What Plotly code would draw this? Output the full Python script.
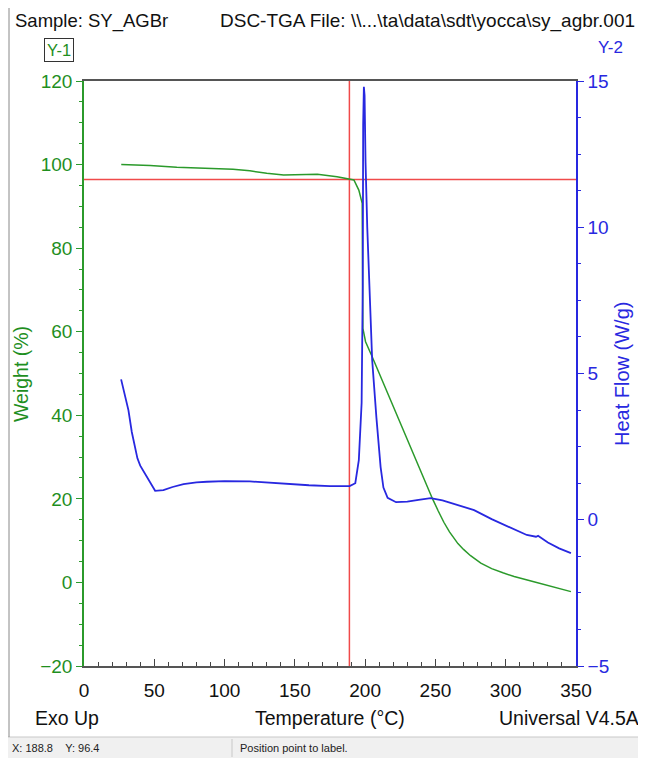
import plotly.graph_objects as go

# ---- data ----
temp_weight = [26.5, 35, 47, 66, 90, 106, 118, 130, 142, 155, 166, 180, 188.8, 192, 195.5, 197.9,
               198.4, 200.3, 205, 211, 225, 240, 247.8, 252, 256, 260, 263, 266, 270, 275, 282.3, 290,
               298, 306, 320, 335, 346.4]
weight = [100.0, 99.9, 99.8, 99.35, 99.0, 98.9, 98.5, 97.9, 97.5, 97.6, 97.7, 97.1, 96.4, 96.3, 93.9, 90.7,
          60.8, 57.6, 54.0, 49.2, 38.2, 26.3, 20.1, 17.1, 14.4, 12.1, 10.6, 9.3, 7.9, 6.4, 4.6, 3.3,
          2.3, 1.4, 0.15, -1.2, -2.2]

temp_heat = [26.4, 29, 31.6, 34, 36, 38, 40, 43, 47, 50.6, 56.5, 63, 70.8, 80, 87.4, 100, 118, 130, 142,
             160, 175, 189, 193, 195.5, 197.5, 198.3, 198.6, 199.1, 199.6, 200.3, 201.5, 203.1, 205, 208,
             211, 213, 216, 222, 230, 238, 246.6, 255, 265, 277.5, 290, 306, 315, 321.5, 323, 330, 338, 346.4]
heat_flow = [4.8, 4.3, 3.75, 3.0, 2.5, 2.1, 1.85, 1.6, 1.3, 0.99, 1.01, 1.12, 1.22, 1.28, 1.3, 1.32, 1.31,
             1.27, 1.22, 1.18, 1.15, 1.15, 1.25, 2.04, 4.0, 8.0, 13.5, 14.8, 14.5, 12.2, 10.0, 7.75, 5.46,
             3.5, 1.8, 1.1, 0.75, 0.6, 0.62, 0.68, 0.74, 0.66, 0.52, 0.33, 0.02, -0.34, -0.52, -0.58,
             -0.55, -0.78, -0.98, -1.14]

cursor_x = 188.8
cursor_y = 96.4

x_ticks = [0, 50, 100, 150, 200, 250, 300, 350]
y1_ticks = [-20, 0, 20, 40, 60, 80, 100, 120]
y2_ticks = [-5, 0, 5, 10, 15]

GREEN = "#2b9a2b"
GREEN_T = "#1f8f1f"
BLUE = "#2828e0"
RED = "#f04a4a"
FONT = "Liberation Sans, Arial, sans-serif"

# the page body has an 8px margin: the figure starts at (8, 8) in the window
OFF = 8
WIN_W, WIN_H = 646, 758
W, H = WIN_W - OFF, WIN_H - OFF
# plot area in window pixels: x 84..576, y 81..666
PL, PR, PT, PB = 84, 576, 81, 666
L, R, T, B = PL - OFF, WIN_W - PR, PT - OFF, WIN_H - PB
pw, ph = PR - PL, PB - PT


def px(x):  # window pixel -> paper
    return (x - PL) / pw


def py(y):
    return (PB - y) / ph


fig = go.Figure()
fig.add_trace(go.Scatter(x=temp_weight, y=weight, mode="lines", line=dict(color=GREEN, width=1.5),
                         yaxis="y", showlegend=False, hoverinfo="skip"))
fig.add_trace(go.Scatter(x=temp_heat, y=heat_flow, mode="lines", line=dict(color=BLUE, width=1.8),
                         yaxis="y2", showlegend=False, hoverinfo="skip"))

shapes = [
    dict(type="line", xref="x", yref="paper", x0=cursor_x, x1=cursor_x, y0=0, y1=1,
         line=dict(color=RED, width=1.5), layer="below"),
    dict(type="line", xref="paper", yref="y", x0=0, x1=1, y0=cursor_y, y1=cursor_y,
         line=dict(color=RED, width=1.5), layer="below"),
    # status bar
    dict(type="rect", xref="paper", yref="paper", x0=px(0), x1=px(WIN_W), y0=py(WIN_H), y1=py(737),
         fillcolor="#f0f0f0", line=dict(width=0), layer="below"),
    dict(type="line", xref="paper", yref="paper", x0=px(0), x1=px(WIN_W), y0=py(737), y1=py(737),
         line=dict(color="#c8c8c8", width=1)),
    dict(type="line", xref="paper", yref="paper", x0=px(232), x1=px(232), y0=py(739), y1=py(757),
         line=dict(color="#c8c8c8", width=1)),
    # left window border
    dict(type="line", xref="paper", yref="paper", x0=px(9), x1=px(9), y0=py(0), y1=py(737),
         line=dict(color="#888888", width=1)),
]

ann = [
    dict(text="Sample: SY_AGBr", x=px(13), y=py(8), xanchor="left", yanchor="top",
         font=dict(size=18.5, color="#111")),
    dict(text="DSC-TGA File: \\\\...\\ta\\data\\sdt\\yocca\\sy_agbr.001", x=px(218), y=py(8),
         xanchor="left", yanchor="top", font=dict(size=19, color="#111")),
    dict(text="Y-1", x=px(59), y=py(50), xanchor="center", font=dict(size=16.5, color=GREEN_T),
         bordercolor="#333", borderwidth=1, borderpad=2),
    dict(text="Y-2", x=px(610), y=py(48), xanchor="center", font=dict(size=17, color=BLUE)),
    dict(text="Exo Up", x=px(33), y=py(718), xanchor="left", font=dict(size=19.5, color="#111")),
    dict(text="Temperature (°C)", x=px(330), y=py(718), xanchor="center", font=dict(size=19.5, color="#111")),
    dict(text="Universal V4.5A", x=px(641), y=py(718), xanchor="right", font=dict(size=19.5, color="#111")),
    dict(text="Weight (%)", x=px(21), y=py(374), xanchor="center", textangle=-90,
         font=dict(size=19.5, color=GREEN_T)),
    dict(text="Heat Flow (W/g)", x=px(622), y=py(374), xanchor="center", textangle=-90,
         font=dict(size=20, color=BLUE)),
    dict(text="X: 188.8&nbsp;&nbsp;&nbsp;&nbsp;Y: 96.4", x=px(10), y=py(748), xanchor="left",
         font=dict(size=11, color="#222")),
    dict(text="Position point to label.", x=px(238), y=py(748), xanchor="left",
         font=dict(size=11, color="#222")),
]
for a in ann:
    a.update(xref="paper", yref="paper", showarrow=False, yanchor=a.get("yanchor", "middle"))

fig.update_layout(
    width=W, height=H,
    margin=dict(l=L, r=R, t=T, b=B, pad=0),
    paper_bgcolor="white", plot_bgcolor="white",
    font=dict(family=FONT, size=19, color="#111"),
    shapes=shapes, annotations=ann,
    xaxis=dict(range=[0, 350], tickvals=x_ticks, ticks="inside", ticklen=7, tickwidth=1.2,
               tickcolor="#444", showgrid=False, zeroline=False, showline=True, linecolor="#555",
               linewidth=2, mirror=True, tickfont=dict(size=19, color="#111"), ticklabelstandoff=6,
               minor=dict(dtick=10, ticks="inside", ticklen=4, tickcolor="#444", showgrid=False)),
    yaxis=dict(range=[-20, 120], tickvals=y1_ticks, ticks="outside", ticklen=6, tickcolor=GREEN,
               showgrid=False, zeroline=False, showline=True, linecolor=GREEN, linewidth=1.5,
               tickfont=dict(size=19, color=GREEN_T),
               minor=dict(dtick=5, ticks="outside", ticklen=3, tickcolor=GREEN, showgrid=False)),
    yaxis2=dict(range=[-5, 15], tickvals=y2_ticks, ticks="outside", ticklen=6, tickcolor=BLUE,
                overlaying="y", side="right", showgrid=False, zeroline=False, showline=True,
                linecolor=BLUE, linewidth=1.5, tickfont=dict(size=19, color=BLUE),
                minor=dict(dtick=1.25, ticks="outside", ticklen=3, tickcolor=BLUE, showgrid=False)),
)

fig.write_html("out.html")
